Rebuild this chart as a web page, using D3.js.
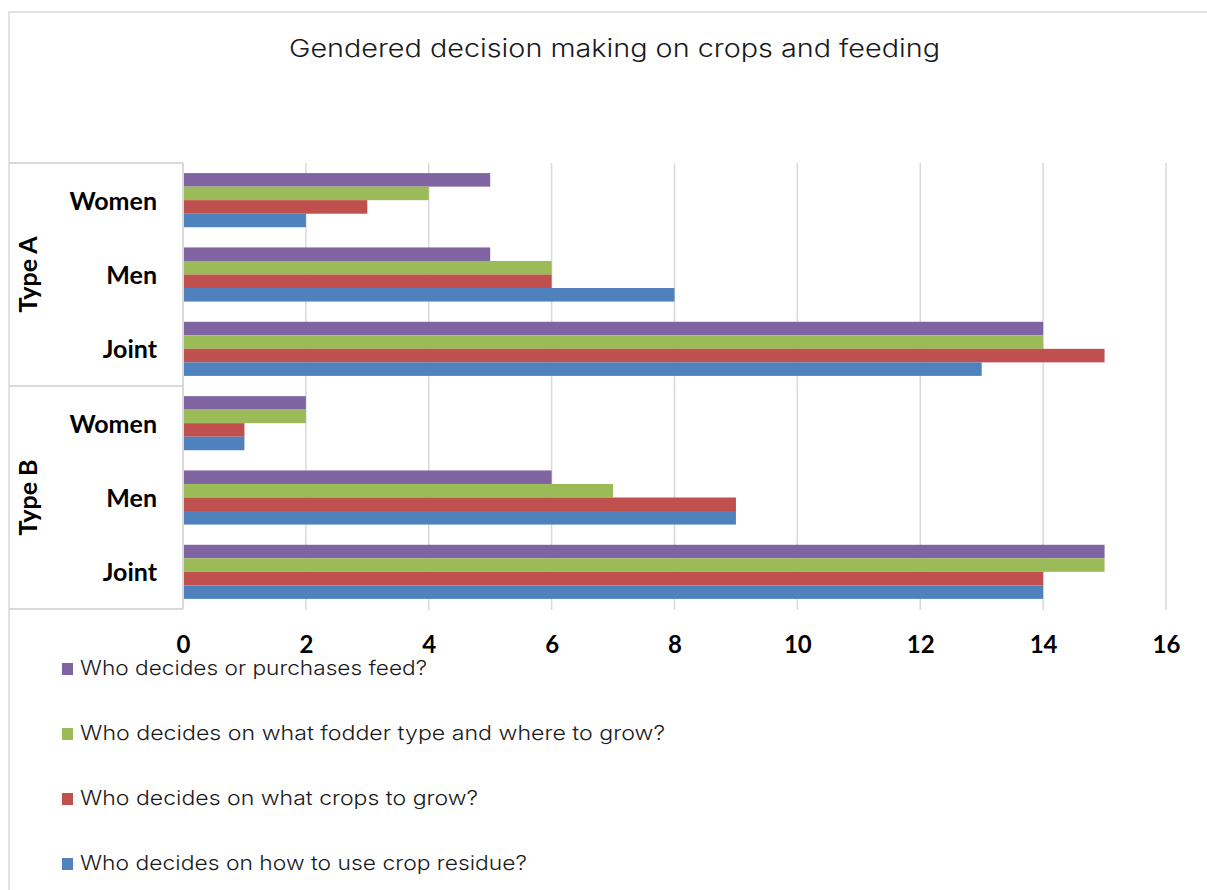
<!DOCTYPE html>
<html>
<head>
<meta charset="utf-8">
<script src="https://cdn.jsdelivr.net/npm/d3@7"></script>
<style>
  html, body { margin: 0; padding: 0; background: #fff; }
  svg { display: block; }
</style>
</head>
<body>
<svg id="chart" width="1207" height="890"></svg>
<script>
// Survey groups and respondent categories (top to bottom)
const groups = ["Type A", "Type B"];
const categories = ["Women", "Men", "Joint"];

// Series, listed in the order the bars are stacked inside each category (top to bottom)
const seriesNames = [
  "Who decides or purchases feed?",
  "Who decides on what fodder type and where to grow?",
  "Who decides on what crops to grow?",
  "Who decides on how to use crop residue?"
];
const seriesColors = ["#8064A2", "#9BBB59", "#C0504D", "#4F81BD"];

// Counts per series, ordered Type A (Women, Men, Joint) then Type B (Women, Men, Joint)
const feedValues    = [5, 5, 14, 2, 6, 15];
const fodderValues  = [4, 6, 14, 2, 7, 15];
const cropsValues   = [3, 6, 15, 1, 9, 14];
const residueValues = [2, 8, 13, 1, 9, 14];

const xTicks = [0, 2, 4, 6, 8, 10, 12, 14, 16];
const chartTitle = "Gendered decision making on crops and feeding";

const seriesValues = [feedValues, fodderValues, cropsValues, residueValues];

const rows = [];
groups.forEach(g => categories.forEach(c => rows.push({ group: g, cat: c, key: g + "|" + c })));

const svg = d3.select("#chart");
const gridColor = "#d9d9d9";
const labelFont = "Lato, 'Open Sans', sans-serif";
const textFont = "Inter, 'Noto Sans', sans-serif";

// Outer chart frame
svg.append("rect")
  .attr("x", 9).attr("y", 12)
  .attr("width", 1220).attr("height", 900)
  .attr("fill", "none").attr("stroke", gridColor).attr("stroke-width", 1.5);

// Title
svg.append("text")
  .attr("x", 614.5).attr("y", 57)
  .attr("text-anchor", "middle")
  .attr("font-family", textFont).attr("font-size", 24).attr("font-weight", 300)
  .attr("fill", "#1a1a1a")
  .attr("textLength", 651).attr("lengthAdjust", "spacingAndGlyphs")
  .text(chartTitle);

// Scales
const x = d3.scaleLinear().domain([0, 16]).range([183, 1166]);
const y = d3.scaleBand()
  .domain(rows.map(r => r.key))
  .range([163, 609])
  .paddingInner(0.272)
  .paddingOuter(0.136);
const ySeries = d3.scaleBand()
  .domain(d3.range(seriesNames.length))
  .range([0, y.bandwidth()]);

const plotTop = 163, plotBottom = 609;

// Vertical gridlines
svg.append("g")
  .selectAll("line")
  .data(xTicks.filter(t => t > 0))
  .join("line")
  .attr("x1", d => x(d)).attr("x2", d => x(d))
  .attr("y1", plotTop).attr("y2", plotBottom + 1)
  .attr("stroke", gridColor).attr("stroke-width", 1.5);

// Bars
const barLayer = svg.append("g");
seriesValues.forEach((vals, si) => {
  barLayer.append("g")
    .attr("fill", seriesColors[si])
    .selectAll("rect")
    .data(rows.map((r, i) => ({ key: r.key, v: vals[i] })))
    .join("rect")
    .attr("x", x(0) + 1)
    .attr("y", d => y(d.key) + ySeries(si))
    .attr("width", d => x(d.v) - x(0) - 1)
    .attr("height", ySeries.bandwidth());
});

// X axis tick labels
const xAxis = d3.axisBottom(x).tickValues(xTicks).tickSize(0).tickPadding(0);
const xg = svg.append("g").attr("transform", `translate(0, ${plotBottom + 44})`).call(xAxis);
xg.select(".domain").remove();
xg.selectAll("text")
  .attr("dy", 0)
  .attr("font-family", labelFont).attr("font-weight", "bold").attr("font-size", 24)
  .attr("fill", "#000");

// Category axis box: outer frame, group divider and axis line
const boxLeft = 9, boxRight = 183;
const boxLines = [
  [boxLeft, plotTop, boxRight, plotTop],
  [boxLeft, plotBottom, boxRight, plotBottom],
  [boxRight, plotTop, boxRight, plotBottom]
];
const groupEdge = (y(rows[3].key) + y(rows[2].key) + y.bandwidth()) / 2;
boxLines.push([boxLeft, groupEdge, boxRight, groupEdge]);
svg.append("g").selectAll("line").data(boxLines).join("line")
  .attr("x1", d => d[0]).attr("y1", d => d[1])
  .attr("x2", d => d[2]).attr("y2", d => d[3])
  .attr("stroke", gridColor).attr("stroke-width", 2);

// Category labels
const yAxis = d3.axisLeft(y).tickSize(0).tickPadding(0).tickFormat(k => k.split("|")[1]);
const yg = svg.append("g").attr("transform", "translate(157, 0)").call(yAxis);
yg.select(".domain").remove();
yg.selectAll("text")
  .attr("dy", "0.38em")
  .attr("font-family", labelFont).attr("font-weight", "bold").attr("font-size", 25)
  .attr("fill", "#000");

// Group labels, rotated
groups.forEach((g, gi) => {
  const top = gi === 0 ? plotTop : groupEdge;
  const bottom = gi === 0 ? groupEdge : plotBottom;
  svg.append("text")
    .attr("transform", `translate(37, ${(top + bottom) / 2}) rotate(-90)`)
    .attr("text-anchor", "middle")
    .attr("font-family", labelFont).attr("font-weight", "bold").attr("font-size", 25)
    .attr("fill", "#000")
    .text(g);
});

// Legend
const legendWidths = [347, 585, 398, 447];
const legend = svg.append("g").selectAll("g")
  .data(seriesNames)
  .join("g")
  .attr("transform", (d, i) => `translate(62, ${663 + i * 65})`);
legend.append("rect")
  .attr("width", 11).attr("height", 12)
  .attr("fill", (d, i) => seriesColors[i]);
legend.append("text")
  .attr("x", 18).attr("y", 12)
  .attr("font-family", textFont).attr("font-size", 20).attr("font-weight", 300)
  .attr("fill", "#1a1a1a")
  .attr("textLength", (d, i) => legendWidths[i]).attr("lengthAdjust", "spacingAndGlyphs")
  .text(d => d);
</script>
</body>
</html>
